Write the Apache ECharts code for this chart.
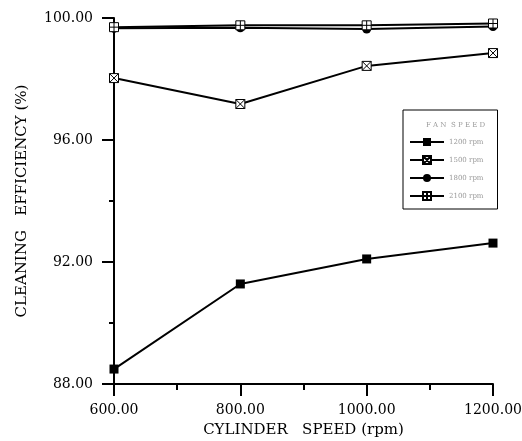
<!DOCTYPE html>
<html>
<head>
<meta charset="utf-8">
<script src="https://cdn.jsdelivr.net/npm/echarts@6/dist/echarts.min.js"></script>
<style>
  html, body { margin: 0; padding: 0; background: #fff; }
  #chart { width: 522px; height: 441px; }
</style>
</head>
<body>
<div id="chart"></div>
<script>
var cylinderSpeed = [600, 800, 1000, 1200];
var fanNames = ['1200 rpm', '1500 rpm', '1800 rpm', '2100 rpm'];
var eff1200 = [88.49, 91.28, 92.10, 92.62];
var eff1500 = [98.03, 97.18, 98.43, 98.85];
var eff1800 = [99.66, 99.68, 99.64, 99.72];
var eff2100 = [99.70, 99.76, 99.76, 99.82];

var serif = '"DejaVu Serif", "Liberation Serif", serif';
var boxX = 'path://M0,0H10V10H0Z M0,0L10,10 M10,0L0,10';
var boxPlus = 'path://M0,0H10V10H0Z M5,0V10 M0,5H10';

function pairs(vals) {
  return cylinderSpeed.map(function (x, i) { return [x, vals[i]]; });
}

function makeSeries(name, vals, symbol, size, filled) {
  return {
    name: name,
    type: 'line',
    data: pairs(vals),
    symbol: symbol,
    symbolSize: size,
    lineStyle: { color: '#000', width: 2 },
    itemStyle: {
      color: filled ? '#000' : '#fff',
      borderColor: '#000',
      borderWidth: filled ? 0 : 1
    },
    animation: false
  };
}

var chart = echarts.init(document.getElementById('chart'));
var option = {
  backgroundColor: '#fff',
  grid: { left: 114, right: 29, top: 18, bottom: 57, containLabel: false, outerBoundsMode: 'none' },
  title: {
    text: 'F A N  S P E E D',
    left: 421,
    top: 117,
    textStyle: { fontFamily: serif, fontSize: 7, fontWeight: 'normal', color: '#999' }
  },
  legend: {
    orient: 'vertical',
    left: 403,
    top: 110,
    padding: [28, 14, 8, 6],
    borderColor: '#000',
    borderWidth: 1,
    itemWidth: 34,
    itemHeight: 10,
    itemGap: 9,
    data: fanNames,
    textStyle: { fontFamily: serif, fontSize: 7, color: '#999' }
  },
  xAxis: {
    type: 'value',
    min: 600,
    max: 1200,
    interval: 200,
    name: 'CYLINDER   SPEED (rpm)',
    nameLocation: 'middle',
    nameGap: 39,
    nameTextStyle: { fontFamily: serif, fontSize: 15, color: '#000' },
    axisLine: { lineStyle: { color: '#000', width: 2 } },
    axisTick: { inside: false, length: 12, lineStyle: { color: '#000', width: 2 } },
    minorTick: { show: true, splitNumber: 2, length: 6, lineStyle: { color: '#000', width: 2 } },
    splitLine: { show: false },
    axisLabel: {
      fontFamily: serif, fontSize: 14, color: '#000', margin: 19,
      formatter: function (v) { return v.toFixed(2); }
    }
  },
  yAxis: {
    type: 'value',
    min: 88,
    max: 100,
    interval: 4,
    name: 'CLEANING   EFFICIENCY (%)',
    nameLocation: 'middle',
    nameGap: 84,
    nameTextStyle: { fontFamily: serif, fontSize: 15, color: '#000' },
    axisLine: { lineStyle: { color: '#000', width: 2 } },
    axisTick: { inside: false, length: 12, lineStyle: { color: '#000', width: 2 } },
    minorTick: { show: true, splitNumber: 2, length: 5, lineStyle: { color: '#000', width: 2 } },
    splitLine: { show: false },
    axisLabel: {
      fontFamily: serif, fontSize: 14, color: '#000', margin: 21,
      formatter: function (v) { return v.toFixed(2); }
    }
  },
  series: [
    makeSeries(fanNames[0], eff1200, 'rect', 9, true),
    makeSeries(fanNames[1], eff1500, boxX, 9, false),
    makeSeries(fanNames[2], eff1800, 'circle', 9, true),
    makeSeries(fanNames[3], eff2100, boxPlus, 9, false)
  ]
};
chart.setOption(option);
</script>
</body>
</html>
